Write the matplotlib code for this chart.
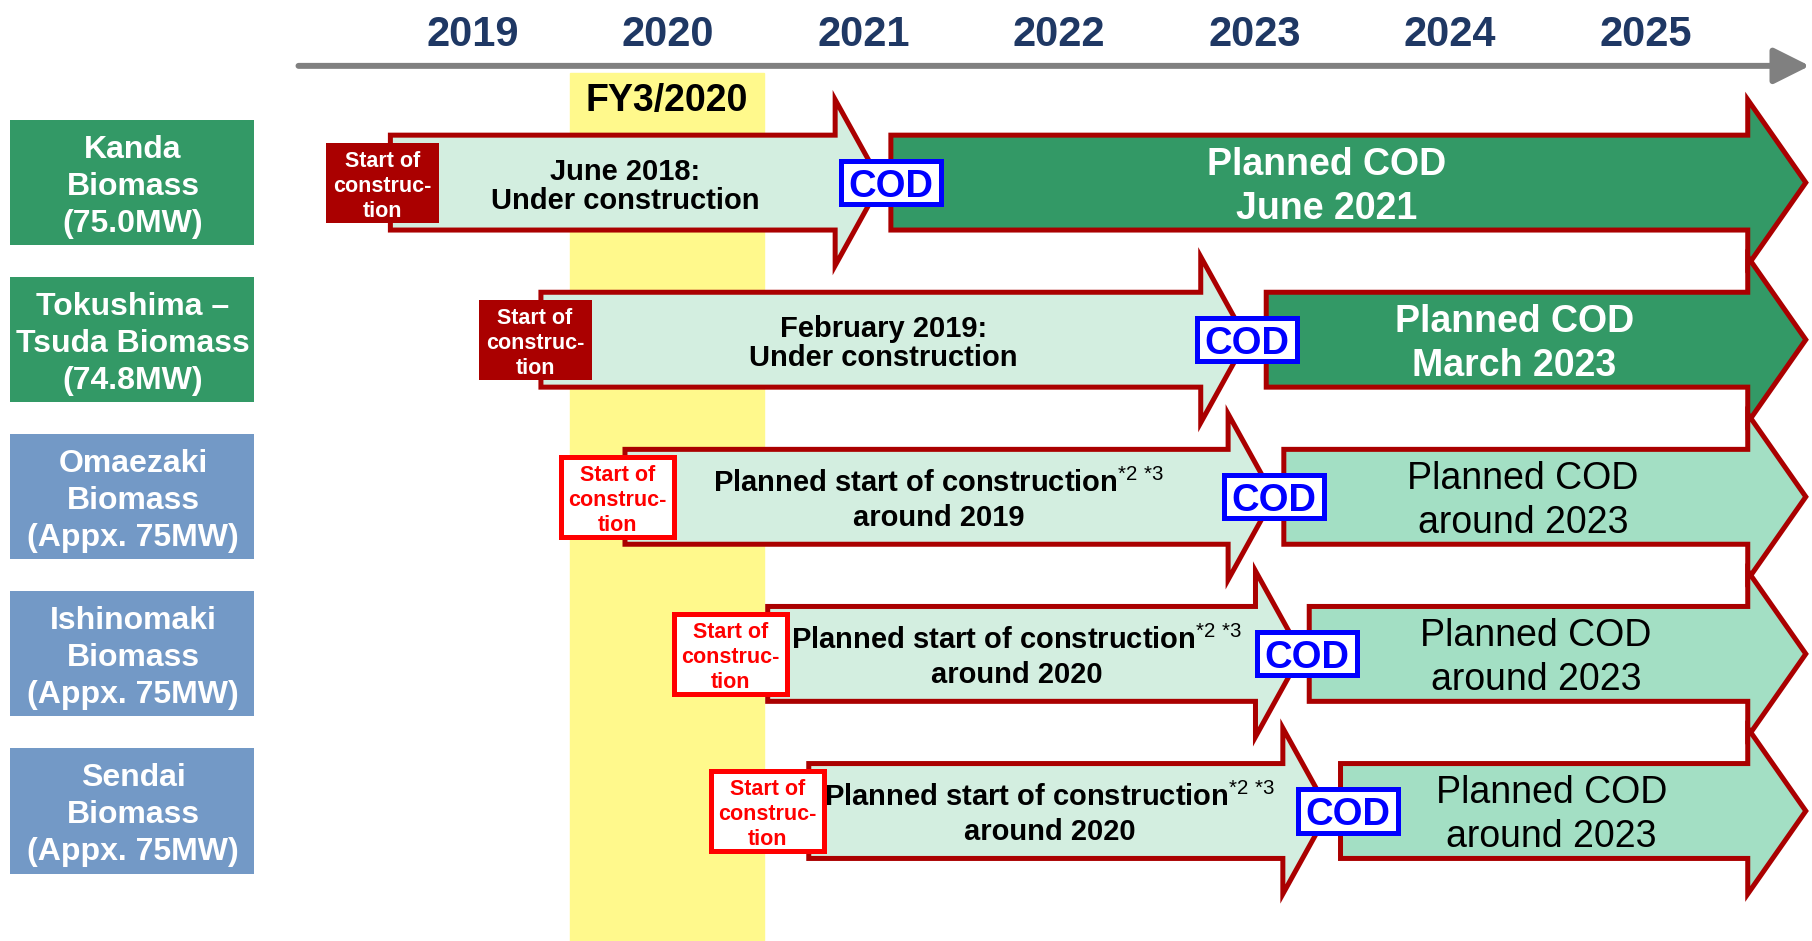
import matplotlib
matplotlib.use('Agg')
import matplotlib.pyplot as plt
import matplotlib.patches as patches
from matplotlib.transforms import ScaledTranslation, blended_transform_factory

plt.rcParams['font.family'] = ['Liberation Sans', 'DejaVu Sans']
plt.rcParams['mathtext.fontset'] = 'custom'
plt.rcParams['mathtext.rm'] = 'Liberation Sans'

# timeline header
years = [2019, 2020, 2021, 2022, 2023, 2024, 2025]
fy_band = (2019.50, 2020.49)
fy_label = 'FY3/2020'

# one entry per project (rows top to bottom)
projects = ['Kanda\nBiomass\n(75.0MW)',
            'Tokushima –\nTsuda Biomass\n(74.8MW)',
            'Omaezaki\nBiomass\n(Appx. 75MW)',
            'Ishinomaki\nBiomass\n(Appx. 75MW)',
            'Sendai\nBiomass\n(Appx. 75MW)']
status = ['under', 'under', 'planned', 'planned', 'planned']
start_mark = [2018.54, 2019.32, 2019.74, 2020.32, 2020.51]
build_from = [2018.58, 2019.35, 2019.78, 2020.51, 2020.72]
build_to = [2021.09, 2022.96, 2023.10, 2023.24, 2023.38]
cod_mark = [2021.14, 2022.96, 2023.10, 2023.27, 2023.48]
oper_from = [2021.14, 2023.06, 2023.15, 2023.28, 2023.44]
oper_to = 2025.82
build_text = [['June 2018:', 'Under construction'],
              ['February 2019:', 'Under construction'],
              ['Planned start of construction', 'around 2019'],
              ['Planned start of construction', 'around 2020'],
              ['Planned start of construction', 'around 2020']]
cod_text = [['Planned COD', 'June 2021'],
            ['Planned COD', 'March 2023'],
            ['Planned COD', 'around 2023'],
            ['Planned COD', 'around 2023'],
            ['Planned COD', 'around 2023']]

# colours
GREEN = '#339966'
BLUE_BOX = '#7399C6'
LIGHT = '#D3EEE0'
MINT = '#A3DFC4'
DARKRED = '#AA0000'
RED = '#FF0000'
NAVY = '#1F3864'
YELLOW = '#FFF98C'

# layout: 195.5 px per year with 2020 centred at x=668, rows 157.1 px apart
W, H = 1812, 941
PX_YEAR, X2020 = 195.5, 668
PX_ROW, ROW0 = 157.1, 182.6

fig = plt.figure(figsize=(W / 100, H / 100), dpi=100)
ax = fig.add_axes([0, 0, 1, 1])
ax.set_xlim(2020 - X2020 / PX_YEAR, 2020 + (W - X2020) / PX_YEAR)
ax.set_ylim((H - ROW0) / PX_ROW, -ROW0 / PX_ROW)
ax.axis('off')

x_ax = blended_transform_factory(ax.transData, ax.transAxes)
y_ax = blended_transform_factory(ax.transAxes, ax.transData)


def put_lines(x, y, lines, gap_px=0, trans=None, **kw):
    # stacked centred lines, nudged 4px down so glyphs sit like the original
    n = len(lines)
    for i, s in enumerate(lines):
        dy = (i - (n - 1) / 2) * gap_px + 4
        off = ScaledTranslation(0, -dy / fig.dpi, fig.dpi_scale_trans)
        ax.text(x, y, s, transform=(trans or ax.transData) + off,
                ha='center', va='center', **kw)


def arrow(x0, x1, y, head, fc):
    body_h, head_h = 0.302, 0.528
    xb = x1 - head
    pts = [(x0, y - body_h), (xb, y - body_h), (xb, y - head_h), (x1, y),
           (xb, y + head_h), (xb, y + body_h), (x0, y + body_h)]
    ax.add_patch(patches.Polygon(pts, closed=True, fc=fc, ec=DARKRED, lw=3.6,
                                 joinstyle='miter', zorder=2))


# header
ax.axvspan(*fy_band, ymin=0, ymax=0.922, color=YELLOW, zorder=0)
put_lines(sum(fy_band) / 2, 0.897, [fy_label], trans=x_ax,
          fontsize=27, fontweight='bold', color='black', zorder=5)
for yr in years:
    put_lines(yr, 0.967, [str(yr)], trans=x_ax,
              fontsize=30, fontweight='bold', color=NAVY)
ax.annotate('', xy=(oper_to + 0.02, 0.930), xytext=(2018.11, 0.930),
            xycoords=x_ax, textcoords=x_ax,
            arrowprops=dict(arrowstyle='-|>,head_length=1.1,head_width=0.55',
                            mutation_scale=20, lw=4.3, color='#808080',
                            shrinkA=0, shrinkB=0))

BOX_W, BOX_H = 0.578, 0.51
COD_W, COD_H = 0.512, 0.274
BUILD_HEAD, OPER_HEAD = 0.235, 0.297

for r, name in enumerate(projects):
    under = status[r] == 'under'

    # project label
    ax.add_patch(patches.Rectangle((0.0055, r - 0.398), 0.1347, 0.796, transform=y_ax,
                                   fc=GREEN if under else BLUE_BOX, ec='none'))
    put_lines(0.0734, r, name.split('\n'), 37, trans=y_ax,
              fontsize=23, fontweight='bold', color='white')

    # construction and operation arrows
    arrow(build_from[r], build_to[r], r, BUILD_HEAD, LIGHT)
    arrow(oper_from[r], oper_to, r, OPER_HEAD, GREEN if under else MINT)

    # start of construction box
    if under:
        ax.add_patch(patches.Rectangle((start_mark[r] - BOX_W / 2, r - BOX_H / 2), BOX_W, BOX_H,
                                       fc=DARKRED, ec='none', zorder=3))
    else:
        ax.add_patch(patches.Rectangle((start_mark[r] - BOX_W / 2, r - BOX_H / 2), BOX_W, BOX_H,
                                       fc='white', ec=RED, lw=3.6, zorder=3))
    put_lines(start_mark[r], r, ['Start of', 'construc-', 'tion'], 25,
              fontsize=15.5, fontweight='bold', color='white' if under else RED, zorder=4)

    # construction text
    lines = list(build_text[r])
    if not under:
        lines[0] = lines[0] + r'$^{\mathrm{{*}2\ {*}3}}$'
    box_right = start_mark[r] + BOX_W / 2
    tx = ((build_from[r] + box_right) / 2 + (build_to[r] - BUILD_HEAD)) / 2
    put_lines(tx, r, lines, 29 if under else 35,
              fontsize=21, fontweight='bold', color='black', zorder=4)

    # COD marker
    ax.add_patch(patches.Rectangle((cod_mark[r] - COD_W / 2, r - COD_H / 2), COD_W, COD_H,
                                   fc='white', ec='#0000FF', lw=3.6, zorder=5))
    put_lines(cod_mark[r], r, ['COD'], fontsize=27.5,
              fontweight='bold', color='#0000FF', zorder=6)

    # operation text
    ox = (oper_from[r] + oper_to - 0.75 * OPER_HEAD) / 2
    put_lines(ox, r, cod_text[r], 44, fontsize=27,
              fontweight='bold' if under else 'normal',
              color='white' if under else 'black', zorder=4)

fig.savefig('out.png', dpi=100)
